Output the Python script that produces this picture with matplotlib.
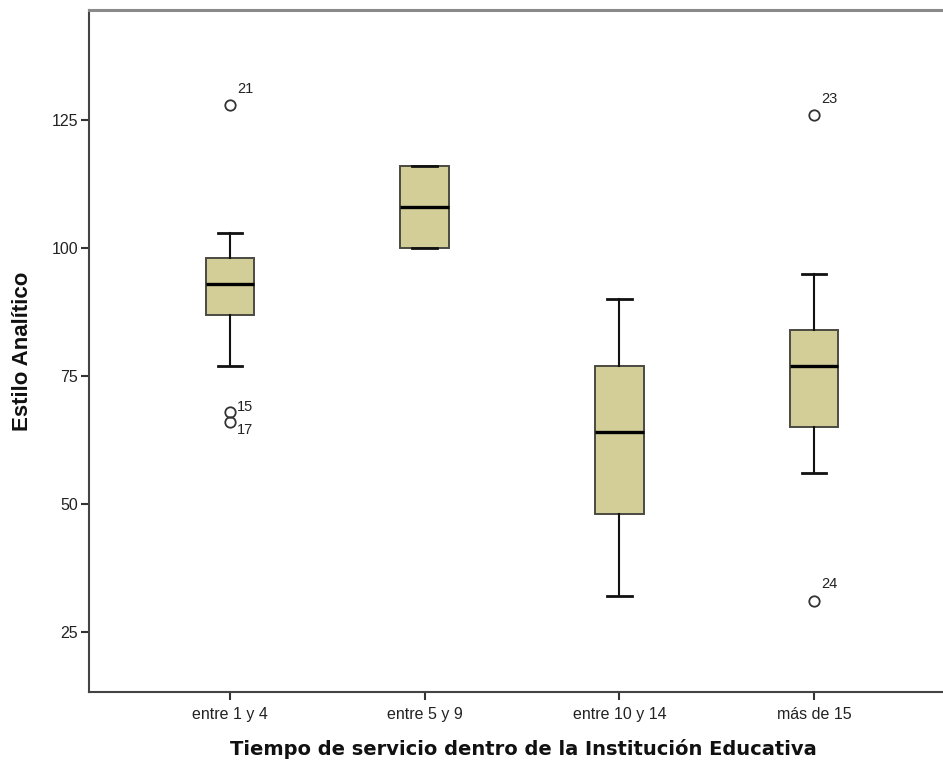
import numpy as np
import matplotlib.pyplot as plt

# Estilo Analítico por tiempo de servicio (resumen de cinco números)
categorias = ["entre 1 y 4", "entre 5 y 9", "entre 10 y 14", "más de 15"]
bigote_inf = [77, 100, 32, 56]
q1 = [87, 100, 48, 65]
mediana = [93, 108, 64, 77]
q3 = [98, 116, 77, 84]
bigote_sup = [103, 116, 90, 95]
atipicos = [[128, 68, 66], [], [], [126, 31]]
casos_atipicos = [["21", "15", "17"], [], [], ["23", "24"]]
ticks_y = [25, 50, 75, 100, 125]

# desplazamiento (px) de la etiqueta de cada caso respecto al círculo
desplaz = {"21": (7, 16), "15": (7, 5), "17": (7, -8), "23": (7, 16), "24": (7, 17)}

FILL = "#d3ce98"
EDGE = "#4a4a42"

fig = plt.figure(figsize=(9.43, 7.67), dpi=100)
ax = fig.add_axes([89 / 943, 1 - 692 / 767, (955 - 89) / 943, (692 - 10) / 767])

stats = []
for i, cat in enumerate(categorias):
    stats.append({
        "label": cat,
        "whislo": bigote_inf[i], "q1": q1[i], "med": mediana[i],
        "q3": q3[i], "whishi": bigote_sup[i], "fliers": atipicos[i],
    })

pos = np.arange(len(categorias))
ax.bxp(stats, positions=pos, widths=0.25, capwidths=0.125, patch_artist=True,
       showfliers=True,
       boxprops=dict(facecolor=FILL, edgecolor=EDGE, linewidth=1.4),
       medianprops=dict(color="black", linewidth=2.4, solid_capstyle="butt"),
       whiskerprops=dict(color="#111111", linewidth=1.5),
       capprops=dict(color="#111111", linewidth=2.0),
       flierprops=dict(marker="o", markersize=7.5, markerfacecolor="none",
                       markeredgecolor="#333333", markeredgewidth=1.3))

for i, (vals, ids) in enumerate(zip(atipicos, casos_atipicos)):
    for v, cid in zip(vals, ids):
        dx, dy = desplaz[cid]
        ax.annotate(cid, (pos[i], v), xytext=(dx, dy), textcoords="offset pixels",
                    ha="left", va="center", fontsize=10.5, color="#222222",
                    family="Liberation Sans")

ax.set_xlim(-0.724, 3.724)
ax.set_ylim(13.3, 146.5)
ax.set_xticks(pos)
ax.set_xticklabels(categorias, family="Liberation Sans", fontsize=11.5, color="#222222")
ax.set_yticks(ticks_y)
ax.set_yticklabels([str(t) for t in ticks_y], family="Liberation Sans", fontsize=11.5,
                   color="#222222")
ax.tick_params(axis="x", direction="out", length=6, width=1.5, color="#333333", pad=5)
ax.tick_params(axis="y", direction="out", length=6, width=1.5, color="#333333", pad=2)

ax.spines["right"].set_visible(False)
ax.spines["left"].set_color("#444444")
ax.spines["left"].set_linewidth(1.5)
ax.spines["bottom"].set_color("#444444")
ax.spines["bottom"].set_linewidth(1.5)
ax.spines["top"].set_color("#8a8a8a")
ax.spines["top"].set_linewidth(2.2)

ax.set_xlabel("Tiempo de servicio dentro de la Institución Educativa",
              family="DejaVu Sans", fontweight="bold", fontsize=14, color="#111111")
ax.set_ylabel("Estilo Analítico", family="Liberation Sans", fontweight="bold",
              fontsize=16, color="#111111")
ax.xaxis.set_label_coords((523 - 89) / (955 - 89), -(739 - 692) / (692 - 10))
ax.yaxis.set_label_coords(-(89 - 33) / (955 - 89), 0.5)

fig.savefig("out.png", dpi=100)
